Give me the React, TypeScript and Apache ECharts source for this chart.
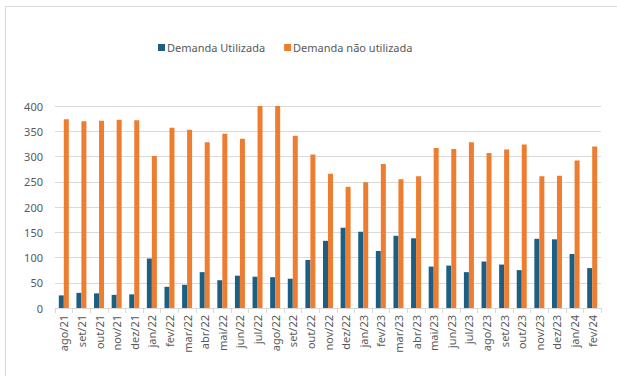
import React, { useEffect, useRef } from "react";
import * as echarts from "echarts";

const categories = [
  "ago/21", "set/21", "out/21", "nov/21", "dez/21",
  "jan/22", "fev/22", "mar/22", "abr/22", "mai/22", "jun/22", "jul/22", "ago/22", "set/22", "out/22", "nov/22", "dez/22",
  "jan/23", "fev/23", "mar/23", "abr/23", "mai/23", "jun/23", "jul/23", "ago/23", "set/23", "out/23", "nov/23", "dez/23",
  "jan/24", "fev/24",
];

const demandaUtilizada = [
  25, 30, 29, 26, 27,
  98, 42, 46, 71, 55, 64, 62, 61, 58, 95, 133, 159,
  151, 113, 143, 138, 82, 84, 71, 92, 86, 75, 137, 136,
  107, 79,
];

const demandaNaoUtilizada = [
  374, 370, 371, 373, 372,
  301, 357, 353, 328, 345, 335, 400, 400, 341, 304, 266, 240,
  249, 285, 255, 261, 317, 315, 328, 307, 314, 324, 261, 262,
  292, 320,
];

const seriesNames = ["Demanda Utilizada", "Demanda não utilizada"];

export default function App() {
  const ref = useRef<HTMLDivElement>(null);
  useEffect(() => {
    if (!ref.current) return;
    const chart = echarts.init(ref.current, null, { renderer: "svg" });
    const font = "'Noto Sans', sans-serif";
    chart.setOption({
      animation: false,
      textStyle: { fontFamily: font },
      legend: {
        top: 37,
        left: 153,
        itemWidth: 7,
        itemHeight: 7,
        itemGap: 19,
        icon: "rect",
        textStyle: { fontSize: 11, color: "#595959", fontFamily: font, padding: [0, 0, 0, -3] },
        data: seriesNames,
      },
      grid: { left: 55, right: 16, top: 106, bottom: 68, containLabel: false },
      xAxis: {
        type: "category",
        data: categories,
        axisLine: { lineStyle: { color: "#d9d9d9" } },
        axisTick: { show: true, length: 5, lineStyle: { color: "#d9d9d9" } },
        axisLabel: { rotate: 90, fontSize: 11, color: "#595959", margin: 7, interval: 0, fontFamily: font },
      },
      yAxis: {
        type: "value",
        min: 0,
        max: 400,
        interval: 50,
        axisLine: { show: false },
        axisTick: { show: false },
        axisLabel: { fontSize: 11, color: "#595959", margin: 12, fontFamily: font },
        splitLine: { lineStyle: { color: "#d9d9d9" } },
      },
      series: [
        {
          name: seriesNames[0],
          type: "bar",
          data: demandaUtilizada,
          barWidth: 5,
          barGap: "0%",
          itemStyle: { color: "#1d5f82" },
        },
        {
          name: seriesNames[1],
          type: "bar",
          data: demandaNaoUtilizada,
          barWidth: 5,
          itemStyle: { color: "#ed7d31" },
        },
      ],
      graphic: [
        { type: "line", shape: { x1: 5, y1: 6.5, x2: 617, y2: 6.5 }, style: { stroke: "#d9d9d9", lineWidth: 1 } },
        { type: "line", shape: { x1: 5.5, y1: 6, x2: 5.5, y2: 376 }, style: { stroke: "#d9d9d9", lineWidth: 1 } },
      ],
    });
    return () => chart.dispose();
  }, []);
  return (
    <div
      ref={ref}
      style={{ position: "fixed", left: 0, top: 0, width: 617, height: 376, background: "#fff" }}
    />
  );
}
